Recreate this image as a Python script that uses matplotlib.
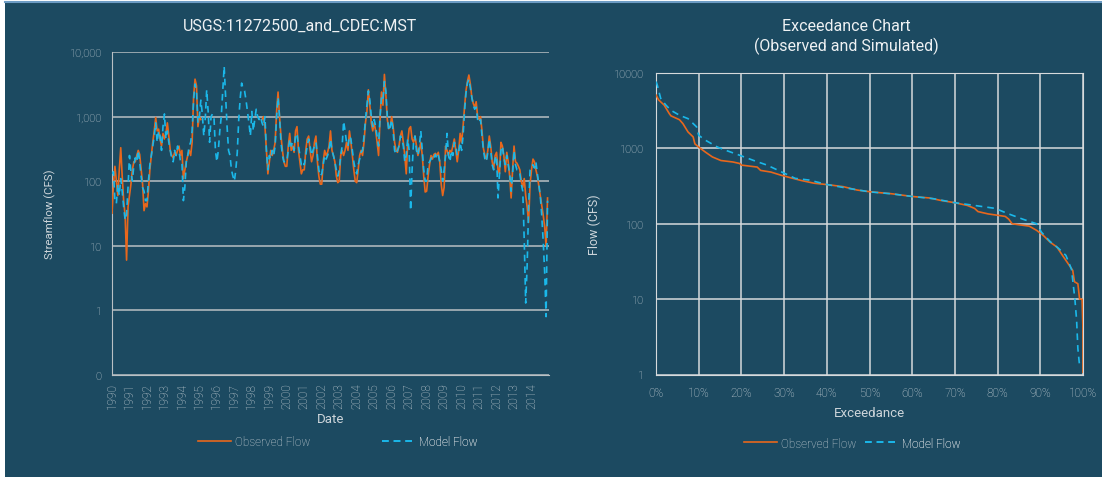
import numpy as np
import matplotlib
matplotlib.use("Agg")
import matplotlib.pyplot as plt
from matplotlib.patches import Rectangle
from matplotlib.lines import Line2D

nan = np.nan

# monthly flows (cfs), Jan..Dec for each year 1990-2014
years = list(range(1990, 2015))
observed_flow = [
    32, 90, 170, 100, 60, 150, 330, 120, 50, 30, 6, 40,            # 1990
    60, 90, 150, 200, 200, 250, 300, 260, 150, 90, 35, 45,         # 1991
    40, 70, 150, 250, 400, 600, 970, 600, 640, 450, 350, 550,      # 1992
    450, 550, 800, 500, 300, 250, 230, 280, 250, 300, 350, 250,    # 1993
    300, 110, 150, 200, 250, 300, 250, 400, 2000, 3800, 3000, 700, # 1994
    1000, 900, nan, nan, nan, nan, nan, nan, nan, nan, nan, nan,   # 1995
    nan, nan, nan, nan, nan, nan, nan, nan, nan, nan, nan, nan,    # 1996
    nan, nan, nan, nan, nan, nan, nan, nan, nan, nan, nan, nan,    # 1997
    nan, nan, nan, nan, nan, nan, nan, 900, 1000, 700, 300, 130,   # 1998
    200, 300, 250, 300, 400, 1200, 2400, 1000, 500, 300, 200, 170, # 1999
    170, 350, 550, 300, 350, 280, 600, 700, 300, 200, 130, 150,    # 2000
    150, 300, 450, 500, 300, 200, 250, 400, 500, 200, 120, 90,     # 2001
    90, 200, 300, 250, 280, 350, 600, 300, 250, 200, 120, 95,      # 2002
    100, 250, 300, 250, 300, 400, 300, 600, 400, 250, 150, 100,    # 2003
    95, 150, 250, 300, 250, 400, 800, 1200, 2600, 1500, 800, 600,  # 2004
    800, 600, 400, 250, 900, 2400, 1500, 4500, 2200, 900, 650, 700, # 2005
    1000, 700, 400, 300, 280, 350, 500, 600, 400, 250, 130, 400,   # 2006
    650, 700, 450, 400, 500, 350, 250, 300, 400, 250, 120, 68,     # 2007
    70, 120, 180, 250, 220, 260, 270, 250, 280, 200, 90, 60,       # 2008
    80, 350, 300, 250, 300, 280, 350, 450, 300, 200, 300, 550,     # 2009
    400, 700, 1400, 2500, 3500, 4400, 3200, 2000, 1600, 1400, 1700, 1000, # 2010
    900, 1000, 600, 320, 250, 220, 300, 500, 350, 200, 155, 250,   # 2011
    280, 150, 130, 400, 350, 250, 140, 280, 200, 120, 55, 150,     # 2012
    350, 200, 190, 170, 150, 100, 80, 110, 60, 40, 23, 90,         # 2013
    150, 220, 200, 150, 120, 85, 60, 42, 30, 20, 10, 55,           # 2014
]
model_flow = [
    130, 140, 50, 45, 90, 60, 110, 70, 40, 25, 30, 80,             # 1990
    250, 140, 100, 180, 230, 200, 300, 200, 120, 80, 70, 50,       # 1991
    50, 100, 180, 250, 350, 500, 800, 400, 600, 500, 300, 700,     # 1992
    1100, 450, 600, 400, 300, 220, 200, 300, 250, 350, 300, 200,   # 1993
    200, 50, 80, 200, 250, 350, 400, 600, 1800, 3200, 2500, 800,   # 1994
    1000, 1800, 1100, 500, 900, 2600, 1200, 400, 1000, 1100, 1000, 300, # 1995
    200, 300, 600, 1000, 2400, 6000, 2100, 700, 300, 250, 150, 120, # 1996
    100, 150, 280, 900, 1900, 3300, 2700, 2500, 1800, 1200, 800, 500, # 1997
    1200, 600, 900, 1300, 1000, 900, 1000, 800, 700, 1000, 300, 150, # 1998
    250, 220, 300, 250, 350, 1000, 2000, 1000, 400, 250, 200, 200, # 1999
    200, 300, 450, 350, 400, 300, 500, 550, 350, 250, 180, 200,    # 2000
    180, 250, 350, 450, 350, 250, 300, 350, 400, 250, 150, 120,    # 2001
    130, 180, 250, 220, 250, 300, 450, 300, 250, 200, 150, 120,    # 2002
    150, 250, 350, 850, 600, 400, 350, 500, 450, 300, 200, 150,    # 2003
    130, 180, 220, 280, 300, 500, 900, 1500, 2500, 1800, 1000, 700, # 2004
    900, 700, 500, 350, 1000, 2000, 1800, 3500, 2500, 1000, 600, 700, # 2005
    900, 600, 300, 260, 300, 350, 500, 450, 350, 200, 250, 450,    # 2006
    300, 35, 150, 400, 500, 300, 250, 350, 600, 300, 150, 100,     # 2007
    100, 180, 200, 220, 250, 230, 260, 220, 250, 200, 150, 100,    # 2008
    150, 250, 550, 250, 200, 300, 250, 400, 350, 250, 280, 400,    # 2009
    300, 500, 1200, 2300, 3300, 3800, 2800, 2000, 1500, 1300, 1400, 900, # 2010
    800, 900, 500, 300, 220, 200, 280, 450, 300, 180, 150, 220,    # 2011
    250, 55, 130, 300, 350, 230, 180, 250, 180, 130, 70, 130,      # 2012
    300, 180, 150, 150, 130, 90, 70, 12, 1.3, 5, 40, 150,          # 2013
    170, 180, 160, 200, 130, 90, 60, 30, 12, 4, 0.8, 50,           # 2014
]

# exceedance curves
obs_exc_pct = [0, 0.6, 1.9, 3.1, 3.5, 5.5, 6.3, 7.5, 8.7, 9.1, 10, 11.6, 13.2, 15.2,
               18, 19.6, 20, 23.7, 24.5, 26.9, 29.3, 31, 34, 37, 40.2, 43.9, 47.1,
               50.3, 55.2, 60, 64, 66.5, 70, 72.9, 74.6, 75.4, 77.8, 79.8, 81.8,
               82.6, 83.4, 85, 87.4, 89.1, 90.7, 92.3, 93.9, 95.2, 96.8, 97.6, 98,
               98.8, 99.2, 99.8, 100, 100]
obs_exc_flow = [5100, 4400, 3760, 2900, 2700, 2400, 2130, 1650, 1420, 1150, 1040, 890,
                770, 690, 660, 630, 600, 565, 510, 485, 440, 415, 375, 345, 330, 310,
                280, 265, 250, 230, 220, 205, 190, 175, 160, 145, 135, 130, 125, 115,
                100, 97, 93, 82, 70, 57, 49, 38, 28, 24, 17, 16, 10, 10, 3.7, 1.07]
mod_exc_pct = [0, 0.3, 1.1, 2.3, 3.5, 5.5, 7.5, 9.5, 10, 11.6, 14.4, 16.4, 19.6, 22.9,
               26, 29.3, 32.6, 35.8, 40.2, 45, 50, 55, 60, 65, 70, 74.6, 79.4, 82.6,
               85.9, 89.1, 90.3, 92.3, 94.3, 96, 97.3, 98.1, 98.5, 98.8, 99.2]
mod_exc_flow = [7700, 6900, 4600, 3760, 3200, 2750, 2480, 1930, 1490, 1280, 1040, 940,
                810, 690, 600, 490, 400, 380, 330, 295, 265, 250, 230, 215, 190, 175,
                160, 135, 115, 100, 77, 58, 47, 38, 25, 10, 5.3, 2.2, 1.3]

BG = "#1c4a61"
TXT = "#cdd5da"
GRID = "#b9c0c4"
GRID2 = "#d6dadc"
ORANGE = "#e8671c"
CYAN = "#1ab8ea"
plt.rcParams["font.family"] = ["Roboto", "Liberation Sans", "DejaVu Sans"]
plt.rcParams["font.weight"] = "light"

W, H = 1102, 481
t = np.array([y + m / 12.0 for y in years for m in range(12)])
obs = np.array(observed_flow, dtype=float)
mod = np.array(model_flow, dtype=float)

fig = plt.figure(figsize=(W / 100, H / 100), dpi=100)
fig.patch.set_facecolor("white")
fig.add_artist(Rectangle((5 / W, 3 / H), 1 - 5 / W, 475 / H,
                         transform=fig.transFigure, facecolor=BG, edgecolor="none", zorder=0))
fig.add_artist(Line2D([5 / W, 1], [1 - 3 / H, 1 - 3 / H], transform=fig.transFigure,
                      color="#6d9cc4", lw=1.5))


def one_legend(ax, handle, label, x_px, y_px):
    leg = ax.legend([handle], [label], loc="center left", bbox_to_anchor=(x_px / W, 1 - y_px / H),
                    bbox_transform=fig.transFigure, frameon=False, fontsize=8.5,
                    labelcolor=TXT, handlelength=2.8, handletextpad=0.35,
                    borderpad=0, borderaxespad=0)
    ax.add_artist(leg)


# ---- left: time series
ax1 = fig.add_axes([112 / W, 1 - 376 / H, 437 / W, 323 / H])
ax1.set_facecolor(BG)
l_obs, = ax1.plot(t, obs, color=ORANGE, lw=1.2, zorder=3)
l_mod, = ax1.plot(t, mod, color=CYAN, lw=1.2, ls=(0, (4, 3)), zorder=4)
ax1.set_yscale("log")
ax1.set_ylim(0.1, 10000)
ax1.set_xlim(1990, 2015)
ax1.set_yticks([0.1, 1, 10, 100, 1000, 10000])
ax1.set_yticklabels(["0", "1", "10", "100", "1,000", "10,000"])
ax1.yaxis.set_minor_locator(matplotlib.ticker.NullLocator())
ax1.set_xticks(years)
ax1.set_xticklabels([str(y) for y in years], rotation=90)
ax1.grid(axis="y", color=GRID, lw=1.1)
ax1.set_axisbelow(True)
for s in ["top", "right"]:
    ax1.spines[s].set_visible(False)
for s in ["left", "bottom"]:
    ax1.spines[s].set_color(GRID)
ax1.tick_params(length=0, colors=TXT, labelsize=8)
ax1.tick_params(axis="x", labelsize=8.5, pad=5)
ax1.tick_params(axis="y", pad=8)
ax1.set_xlabel("Date", color=TXT, fontsize=9.5, labelpad=3)
ax1.set_ylabel("Streamflow (CFS)", color=TXT, fontsize=8.2, labelpad=9)
fig.text(300 / W, 1 - 26 / H, "USGS:11272500_and_CDEC:MST", color="#eef1f3",
         fontsize=11.5, fontweight="normal", ha="center", va="center")
one_legend(ax1, l_obs, "Observed Flow", 198, 443)
one_legend(ax1, l_mod, "Model Flow", 382, 443)

# ---- right: exceedance
ax2 = fig.add_axes([656 / W, 1 - 375.5 / H, 427 / W, 301.5 / H])
ax2.set_facecolor(BG)
e_obs, = ax2.plot(obs_exc_pct, obs_exc_flow, color=ORANGE, lw=1.2, zorder=3)
e_mod, = ax2.plot(mod_exc_pct, mod_exc_flow, color=CYAN, lw=1.2, ls=(0, (4, 3)), zorder=4)
ax2.set_yscale("log")
ax2.set_ylim(1, 10000)
ax2.set_xlim(0, 100)
ax2.set_yticks([1, 10, 100, 1000, 10000])
ax2.set_yticklabels(["1", "10", "100", "1000", "10000"])
ax2.yaxis.set_minor_locator(matplotlib.ticker.NullLocator())
ax2.set_xticks(range(0, 101, 10))
ax2.set_xticklabels([f"{p}%" for p in range(0, 101, 10)])
ax2.grid(True, color=GRID2, lw=1.1)
ax2.set_axisbelow(True)
for s in ax2.spines.values():
    s.set_color(GRID2)
ax2.tick_params(length=0, colors=TXT, labelsize=8.5)
ax2.tick_params(axis="y", labelsize=8, pad=9)
ax2.tick_params(axis="x", pad=8)
ax2.set_xlabel("Exceedance", color=TXT, fontsize=9.5, labelpad=5)
ax2.set_ylabel("Flow (CFS)", color=TXT, fontsize=9, labelpad=9)
fig.text(846 / W, 1 - 37 / H, "Exceedance Chart\n(Observed and Simulated)", color="#eef1f3",
         fontsize=11.5, fontweight="normal", ha="center", va="center", linespacing=1.35)
one_legend(ax2, e_obs, "Observed Flow", 744, 444)
one_legend(ax2, e_mod, "Model Flow", 865, 444)

fig.savefig("out.png", dpi=100, facecolor=fig.get_facecolor())
